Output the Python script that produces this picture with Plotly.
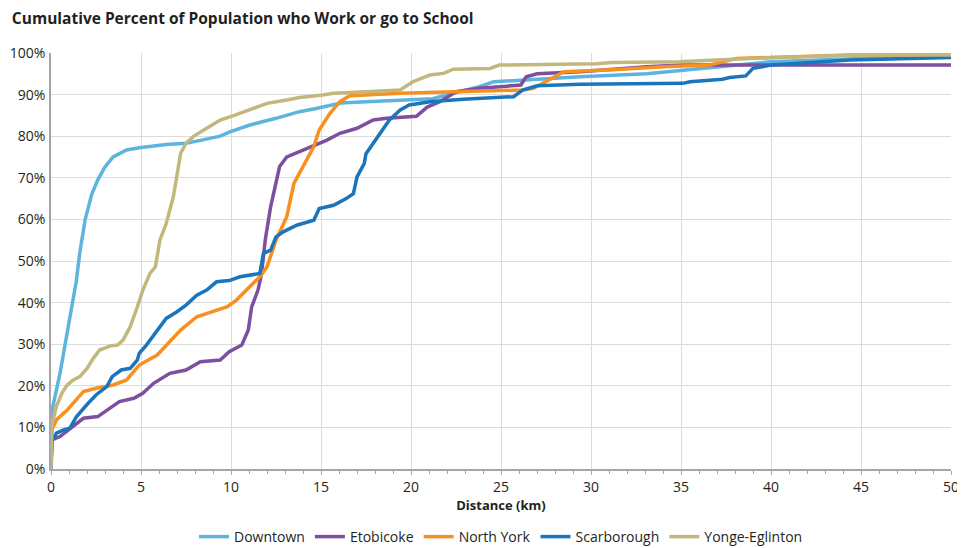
import plotly.graph_objects as go

# Cumulative share (%) by distance (km)
downtown_x = [0, 0.05, 0.5, 1.15, 1.4, 1.6, 1.9, 2.26, 2.6, 3.0, 3.45, 4.2, 4.9, 6.4, 7.5, 8.3,
              9.4, 9.9, 11.05, 12.5, 13.8, 14.8, 16.1, 17.5, 19.4, 21.2, 22.5, 23.8, 24.6,
              26.1, 29.4, 33.1, 35, 37, 39, 40, 45, 50]
downtown_y = [0, 14, 23, 39, 45, 52, 60, 66, 69.5, 72.6, 75, 76.7, 77.2, 78, 78.3, 79,
              80, 81, 82.7, 84.3, 85.9, 86.7, 88, 88.3, 88.7, 89, 90.5, 91.9, 93.1,
              93.5, 94.3, 95, 95.8, 96.6, 97.4, 97.9, 98.7, 99.1]

etobicoke_x = [0, 0.05, 0.5, 1.24, 1.8, 2.6, 3.3, 3.8, 4.6, 5.1, 5.7, 6.6, 7.5, 8.3, 9.4, 9.9,
               10.6, 10.96, 11.15, 11.5, 11.7, 11.9, 12.2, 12.4, 12.7, 13.1, 13.8, 14.4, 15.3,
               16.05, 17, 17.9, 18.65, 20.3, 20.9, 21.6, 22.5, 23.8, 26.1, 26.4, 27, 29.4,
               33.1, 35, 40, 50]
etobicoke_y = [0, 7, 7.8, 10.2, 12.2, 12.6, 14.6, 16.2, 17, 18.2, 20.6, 23, 23.8, 25.8, 26.2, 28.2,
               29.8, 33.4, 39, 43, 47, 55, 63, 67, 72.7, 75, 76.3, 77.5, 79,
               80.7, 81.9, 83.9, 84.3, 84.8, 87, 88.3, 90.7, 91.5, 92.3, 94.3, 95, 95.5,
               96.7, 97.1, 97.1, 97.1]

north_york_x = [0, 0.05, 0.3, 0.9, 1.4, 1.8, 2.5, 3.45, 4.2, 4.9, 5.9, 6.6, 7.2, 8.1, 9.2, 9.8,
                10.3, 11.05, 11.6, 12, 12.5, 13.1, 13.5, 14, 14.6, 14.9, 15.5, 16.05, 16.6,
                19.4, 22.2, 26.2, 26.8, 27.5, 28.5, 31.2, 34, 36.6, 38.1, 44.4, 50]
north_york_y = [0, 9.4, 11.8, 14.2, 16.6, 18.6, 19.4, 20.2, 21.4, 25, 27.4, 30.6, 33.4, 36.6, 38.2, 39,
                40.6, 43.8, 46.2, 48.6, 55, 60.7, 68.7, 72.7, 77.5, 81.5, 85.5, 88.3, 89.7,
                90.3, 90.6, 91.1, 91.5, 93.1, 95.5, 96, 96.7, 97.1, 98.7, 99.5, 99.5]

scarborough_x = [0, 0.05, 0.3, 0.7, 1.05, 1.4, 2.0, 2.5, 3.1, 3.4, 3.9, 4.4, 4.8, 4.9, 5.3, 5.9,
                 6.4, 7.0, 7.5, 8.1, 8.65, 9.2, 9.9, 10.5, 11.6, 11.8, 12.2, 12.5, 12.9, 13.65,
                 14.2, 14.6, 14.9, 15.7, 16.4, 16.8, 17.0, 17.4, 17.5, 17.9, 18.3, 18.8, 19.4,
                 19.9, 21.05, 22.9, 25.7, 26.2, 27, 29.4, 35.1, 35.5, 37.3, 37.7, 38.6, 39,
                 40, 44.4, 50]
scarborough_y = [0, 6.6, 8.6, 9.4, 9.8, 12.5, 15.5, 17.8, 19.8, 22.2, 23.8, 24.2, 26.2, 27.8, 29.8, 33.4,
                 36.2, 37.8, 39.4, 41.8, 43, 45, 45.3, 46.2, 47, 51.8, 52.6, 55.8, 57, 58.6,
                 59.4, 59.8, 62.6, 63.4, 65, 66.2, 70.2, 73.4, 75.8, 78.2, 80.7, 83.9, 86.3,
                 87.5, 88.3, 88.9, 89.5, 91.1, 92.1, 92.5, 92.7, 93.1, 93.7, 94.1, 94.5, 96.3,
                 97.1, 98.3, 98.9]

yonge_x = [0, 0.05, 0.3, 0.6, 0.9, 1.24, 1.6, 2.0, 2.35, 2.7, 3.3, 3.7, 4.0, 4.4, 4.8, 5.1,
           5.5, 5.8, 6.05, 6.4, 6.8, 7.0, 7.2, 7.5, 7.9, 8.65, 9.4, 10.1, 11.05, 12, 13.1,
           13.8, 15.1, 15.7, 17.5, 19.4, 20.1, 21.05, 21.8, 22.35, 24.4, 24.9, 30.3, 31.2,
           34.9, 37, 38.8, 44.8, 50]
yonge_y = [0, 10.6, 15, 18.2, 20.2, 21.4, 22.2, 24.2, 26.6, 28.6, 29.6, 29.8, 31, 34.2, 39, 43,
           47, 48.6, 55, 59, 65.5, 71, 75.9, 78.3, 79.9, 81.9, 83.9, 84.9, 86.3, 87.9, 88.7,
           89.3, 89.9, 90.3, 90.7, 91.1, 93.1, 94.7, 95.1, 96.1, 96.3, 97.1, 97.4, 97.7,
           97.9, 98.3, 98.7, 99.5, 99.5]

x_ticks = [0, 5, 10, 15, 20, 25, 30, 35, 40, 45, 50]
y_ticks = [0, 10, 20, 30, 40, 50, 60, 70, 80, 90, 100]

SERIES = [
    ("Downtown", downtown_x, downtown_y, "#5DB4DF"),
    ("Etobicoke", etobicoke_x, etobicoke_y, "#7D4F9F"),
    ("North York", north_york_x, north_york_y, "#F7901E"),
    ("Scarborough", scarborough_x, scarborough_y, "#1B75BC"),
    ("Yonge-Eglinton", yonge_x, yonge_y, "#C2B77C"),
]

TEXT = "#231F20"
FONT = "Open Sans, sans-serif"

fig = go.Figure()
for name, xs, ys, color in SERIES:
    fig.add_trace(go.Scatter(
        x=xs, y=ys, mode="lines", name=name,
        line=dict(color=color, width=3.5),
    ))

# page body has an 8px margin, so everything is placed 8px up/left of the target
fig.update_layout(
    width=965, height=548,
    paper_bgcolor="white",
    plot_bgcolor="white",
    font=dict(family=FONT, color=TEXT, size=14),
    title=dict(
        text="<b>Cumulative Percent of Population who Work or go to School</b>",
        x=0.004, xanchor="left", y=0.98, yanchor="middle",
        font=dict(size=15.5, color=TEXT),
    ),
    margin=dict(l=43, r=22, t=45, b=87, autoexpand=False),
    xaxis=dict(
        range=[0, 50],
        tickvals=x_ticks,
        automargin=False,
        showgrid=True, gridcolor="#DCDCDC", gridwidth=1,
        zeroline=False,
        showline=True, linecolor="#A6A6A6", linewidth=1.5,
        ticks="outside", ticklen=4, tickcolor="#A6A6A6",
        minor=dict(dtick=1, ticks="outside", ticklen=3, tickcolor="#A6A6A6", showgrid=False),
        tickfont=dict(size=14),
        title=dict(text="<b>Distance (km)</b>", font=dict(size=13), standoff=4),
    ),
    yaxis=dict(
        range=[0, 100],
        tickvals=y_ticks,
        ticktext=[f"{v}%" for v in y_ticks],
        automargin=False,
        showgrid=True, gridcolor="#DCDCDC", gridwidth=1,
        zeroline=False,
        showline=True, linecolor="#A6A6A6", linewidth=1.5,
        ticks="", ticklabelstandoff=1,
        tickfont=dict(size=14),
    ),
    legend=dict(
        orientation="h",
        x=0.5, xanchor="center",
        y=-0.1635, yanchor="middle",
        font=dict(size=14),
        itemwidth=30,
        traceorder="normal",
    ),
    showlegend=True,
)

fig.write_html("out.html")
